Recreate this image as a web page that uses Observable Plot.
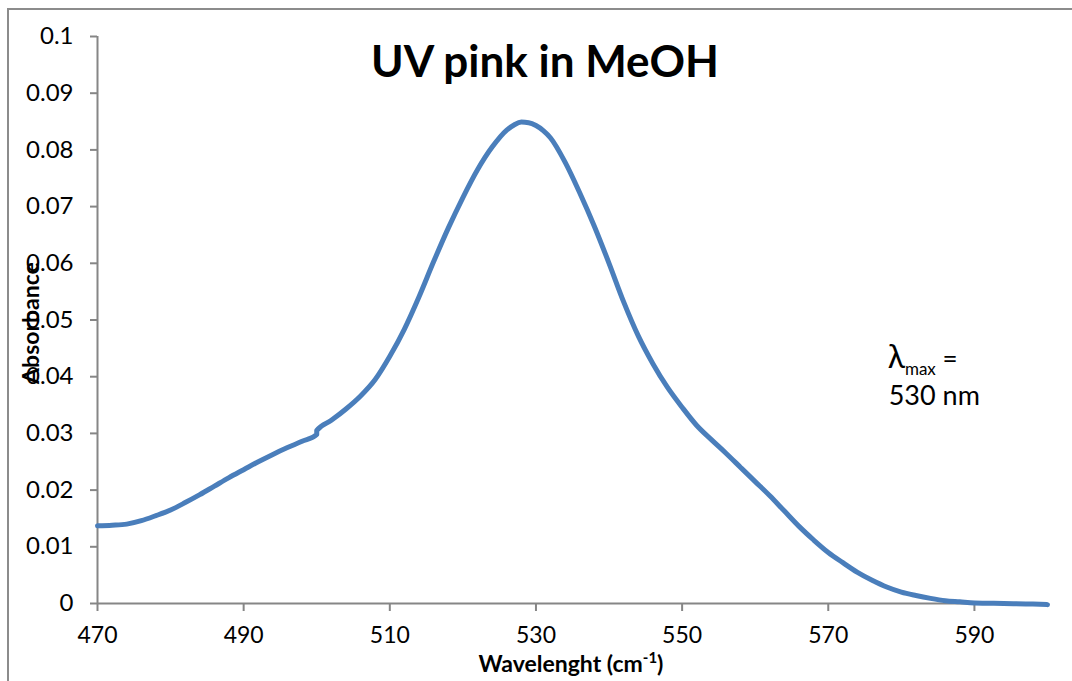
<!DOCTYPE html>
<html><head><meta charset="utf-8">
<script src="https://cdn.jsdelivr.net/npm/d3@7"></script>
<script src="https://cdn.jsdelivr.net/npm/@observablehq/plot@0.6"></script>
<style>
body{margin:0;background:#fff;overflow:hidden;}
#wrap{position:relative;width:1072px;height:681px;overflow:hidden;background:#fff;}
#border{position:absolute;left:7px;top:8px;width:1100px;height:720px;border:2px solid #8c8c8c;box-sizing:border-box;}
#wrap svg{position:absolute;left:0;top:0;background:transparent;}
</style></head><body><div id="wrap"><div id="border"></div></div>
<script>
const wavelength = [470,472,474,476,478,480,482,484,486,488,490,492,494,496,498,500,500,502,504,506,508,510,512,514,516,518,520,522,524,526,527,528,529,530,531,532,534,536,538,540,542,544,546,548,550,552,554,556,558,560,562,564,566,568,570,572,574,576,578,580,582,584,586,588,590,594,598,600];
const absorbance = [0.0137,0.0138,0.0140,0.0146,0.0155,0.0165,0.0178,0.0192,0.0207,0.0222,0.0236,0.0250,0.0263,0.0275,0.0286,0.0298,0.0305,0.0323,0.0343,0.0366,0.0395,0.0436,0.0484,0.0541,0.0603,0.0662,0.0716,0.0765,0.0805,0.0835,0.0844,0.0849,0.0848,0.0843,0.0834,0.0821,0.0778,0.0724,0.0665,0.0600,0.0532,0.0472,0.0423,0.0381,0.0346,0.0314,0.0289,0.0265,0.0240,0.0215,0.0190,0.0163,0.0136,0.0112,0.0090,0.0072,0.0055,0.0041,0.0029,0.0020,0.0014,0.0009,0.0005,0.0003,0.0001,0.0000,-0.0001,-0.0002];
const xTicks = [470,490,510,530,550,570,590];
const yTicks = [0,0.01,0.02,0.03,0.04,0.05,0.06,0.07,0.08,0.09,0.1];
const title = "UV pink in MeOH";
const xLabel = "Wavelenght (cm";
const xLabelSup = "-1";
const yLabel = "Absorbance";
const lambdaPos = {wl: 578.2, a: 0.0414};

const data = wavelength.map((w, i) => ({w, a: absorbance[i]}));
const font = "Lato, 'Open Sans', sans-serif";
const axisColor = "#868686";

const plot = Plot.plot({
  width: 1072, height: 681,
  marginLeft: 97, marginRight: 25, marginTop: 36, marginBottom: 78,
  style: {fontFamily: font, background: "transparent", color: "#000"},
  x: {domain: [470, 600]},
  y: {domain: [0, 0.1]},
  marks: [
    Plot.axisX({ticks: xTicks, tickSize: 8, tickPadding: 15, fontSize: 23, label: null, stroke: axisColor, strokeWidth: 2, strokeOpacity: 1, tickFormat: d => String(d)}),
    Plot.axisY({ticks: yTicks, tickSize: 7, tickPadding: 17, fontSize: 24, label: null, stroke: axisColor, strokeWidth: 2, strokeOpacity: 1, tickFormat: d => String(+d.toFixed(2))}),
    Plot.ruleY([0], {stroke: axisColor, strokeWidth: 2}),
    Plot.ruleX([470], {stroke: axisColor, strokeWidth: 2}),
    Plot.line(data, {x: "w", y: "a", stroke: "#4a7ebb", strokeWidth: 5, curve: "monotone-x"})
  ]
});
document.getElementById("wrap").appendChild(plot);

const svg = d3.select(plot);
const xs = plot.scale("x"), ys = plot.scale("y");

svg.append("text").attr("x", 545).attr("y", 77).attr("text-anchor", "middle")
  .attr("font-family", font).attr("font-weight", "bold").attr("font-size", 44).attr("fill", "#000").text(title);

const xl = svg.append("text").attr("x", 571).attr("y", 672).attr("text-anchor", "middle")
  .attr("font-family", font).attr("font-weight", "bold").attr("font-size", 23).attr("fill", "#000");
xl.append("tspan").text(xLabel);
xl.append("tspan").attr("font-size", 15).attr("dy", -9).text(xLabelSup);
xl.append("tspan").attr("dy", 9).text(")");

svg.append("text").attr("transform", "translate(39,323) rotate(-90)").attr("text-anchor", "middle")
  .attr("font-family", font).attr("font-weight", "bold").attr("font-size", 23).attr("fill", "#000").text(yLabel);

const lx = xs.apply(lambdaPos.wl), ly = ys.apply(lambdaPos.a);
const lt = svg.append("text").attr("x", lx).attr("y", ly).attr("text-anchor", "start").attr("font-family", font).attr("fill", "#000");
lt.append("tspan").attr("font-size", 32).text("λ");
lt.append("tspan").attr("font-size", 17).attr("dy", 7).text("max");
lt.append("tspan").attr("font-size", 26).attr("dy", -7).text(" =");
svg.append("text").attr("x", lx + 1).attr("y", ly + 37).attr("text-anchor", "start").attr("font-family", font).attr("font-size", 27).attr("fill", "#000").text("530 nm");
</script>
</body></html>
